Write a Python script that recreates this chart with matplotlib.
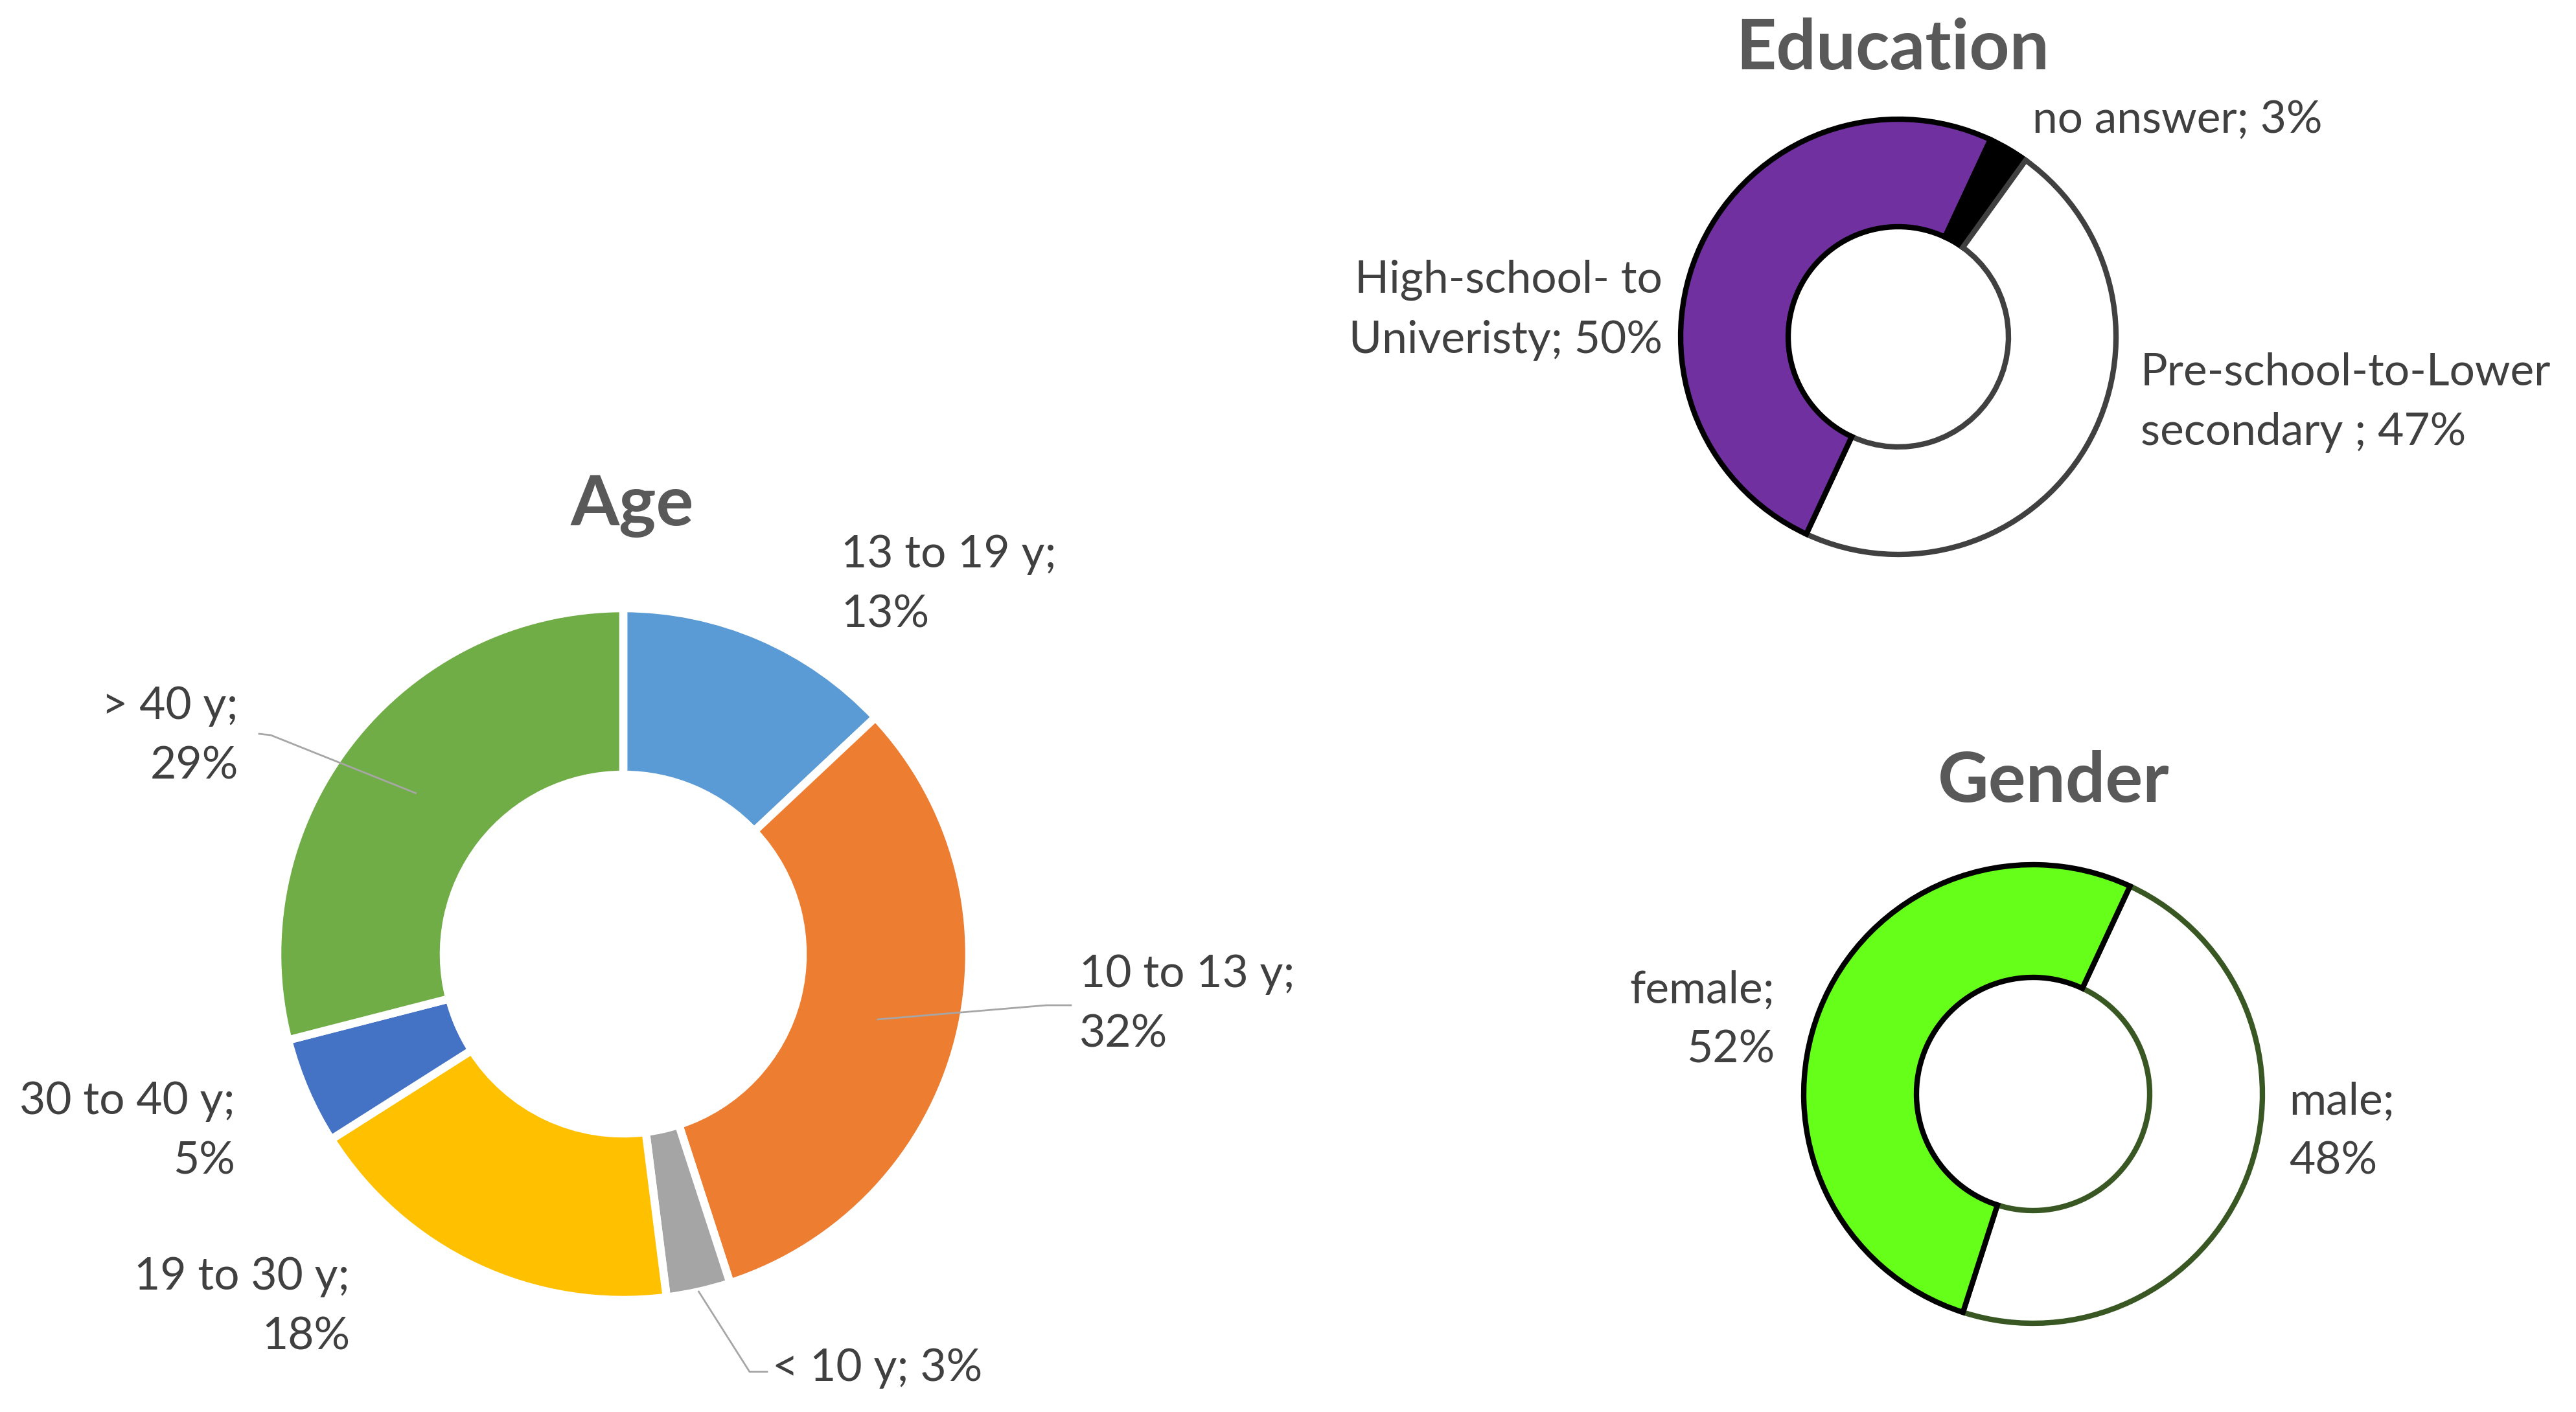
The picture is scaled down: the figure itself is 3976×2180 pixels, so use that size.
import numpy as np
import matplotlib
matplotlib.use("Agg")
import matplotlib.pyplot as plt

plt.rcParams['font.family'] = ['Lato', 'DejaVu Sans']

# Age
age_labels = ['13 to 19 y;\n13%', '10 to 13 y;\n32%', '< 10 y; 3%',
              '19 to 30 y;\n18%', '30 to 40 y;\n5%', '> 40 y;\n29%']
age_values = [13, 32, 3, 18, 5, 29]
age_colors = ['#5B9BD5', '#ED7D31', '#A5A5A5', '#FFC000', '#4472C4', '#70AD47']

# Education
edu_labels = ['no answer; 3%', 'Pre-school-to-Lower\nsecondary ; 47%',
              'High-school- to\nUniveristy; 50%']
edu_values = [3, 47, 50]
edu_colors = ['#000000', '#FFFFFF', '#7030A0']
edu_edges = ['#000000', '#404040', '#000000']

# Gender
gen_labels = ['female;\n52%', 'male;\n48%']
gen_values = [52, 48]
gen_colors = ['#66FF1A', '#FFFFFF']
gen_edges = ['#000000', '#385723']

W, H = 3976, 2180
fig = plt.figure(figsize=(W / 100, H / 100), dpi=100)
ax = fig.add_axes([0, 0, 1, 1])

txt = '#404040'
ttl = '#595959'
fs = 50
tfs = 78
lsp = 1.58

# ---- Age donut
age_c = (962, 707)
age_r, age_ri = 534, 277
aw, _ = ax.pie(age_values, colors=age_colors, startangle=90, counterclock=False,
               radius=age_r, center=age_c,
               wedgeprops=dict(width=age_r - age_ri, edgecolor='white', linewidth=9))
ax.text(976, 1399, 'Age', ha='center', va='center', fontsize=tfs,
        fontweight='bold', color=ttl)

age_pos = [(1298, 1277, 'left'), (1666, 629, 'left'), (1192, 68, 'left'),
           (540, 162, 'right'), (363, 433, 'right'), (368, 1043, 'right')]
for lab, (x, y, ha) in zip(age_labels, age_pos):
    ax.text(x, y, lab, ha=ha, va='center', fontsize=fs, color=txt,
            linespacing=lsp, multialignment=ha)


def anchor(w, rr):
    a = np.deg2rad((w.theta1 + w.theta2) / 2)
    return age_c[0] + rr * np.cos(a), age_c[1] + rr * np.sin(a)


# leader lines: (wedge index, radius, elbow points)
leaders = [(5, (age_r + age_ri) / 2, [(400, 1047), (418, 1045)]),
           (1, (age_r + age_ri) / 2, [(1653, 628), (1615, 628)]),
           (2, age_r, [(1184, 62), (1157, 62)])]
for i, rr, pts in leaders:
    ax_, ay_ = anchor(aw[i], rr)
    xs = [p[0] for p in pts] + [ax_]
    ys = [p[1] for p in pts] + [ay_]
    ax.plot(xs, ys, color='#A6A6A6', lw=2, zorder=5)

# ---- Education donut
edu_c = (2930, 1660)
edu_r, edu_ri = 336, 170
ew, _ = ax.pie(edu_values, colors=edu_colors, startangle=65, counterclock=False,
               radius=edu_r, center=edu_c,
               wedgeprops=dict(width=edu_r - edu_ri, linewidth=6))
for w, ec in zip(ew, edu_edges):
    w.set_edgecolor(ec)
ax.text(2921, 2104, 'Education', ha='center', va='center', fontsize=tfs,
        fontweight='bold', color=ttl)
edu_pos = [(3137, 1995, 'left'), (3304, 1559, 'left'), (2566, 1701, 'right')]
for lab, (x, y, ha) in zip(edu_labels, edu_pos):
    ax.text(x, y, lab, ha=ha, va='center', fontsize=fs, color=txt,
            linespacing=lsp, multialignment=ha)

# ---- Gender donut
gen_c = (3138, 491)
gen_r, gen_ri = 354, 180
gw, _ = ax.pie(gen_values, colors=gen_colors, startangle=65, counterclock=True,
               radius=gen_r, center=gen_c,
               wedgeprops=dict(width=gen_r - gen_ri, linewidth=6))
for w, ec in zip(gw, gen_edges):
    w.set_edgecolor(ec)
gw[0].set_zorder(3)
ax.text(3170, 973, 'Gender', ha='center', va='center', fontsize=tfs,
        fontweight='bold', color=ttl)
gen_pos = [(2739, 605, 'right'), (3533, 433, 'left')]
for lab, (x, y, ha) in zip(gen_labels, gen_pos):
    ax.text(x, y, lab, ha=ha, va='center', fontsize=fs, color=txt,
            linespacing=lsp, multialignment=ha)

ax.set_xlim(0, W)
ax.set_ylim(0, H)
ax.set_aspect('equal')
ax.axis('off')

fig.savefig('out.png', dpi=100, facecolor='white')
